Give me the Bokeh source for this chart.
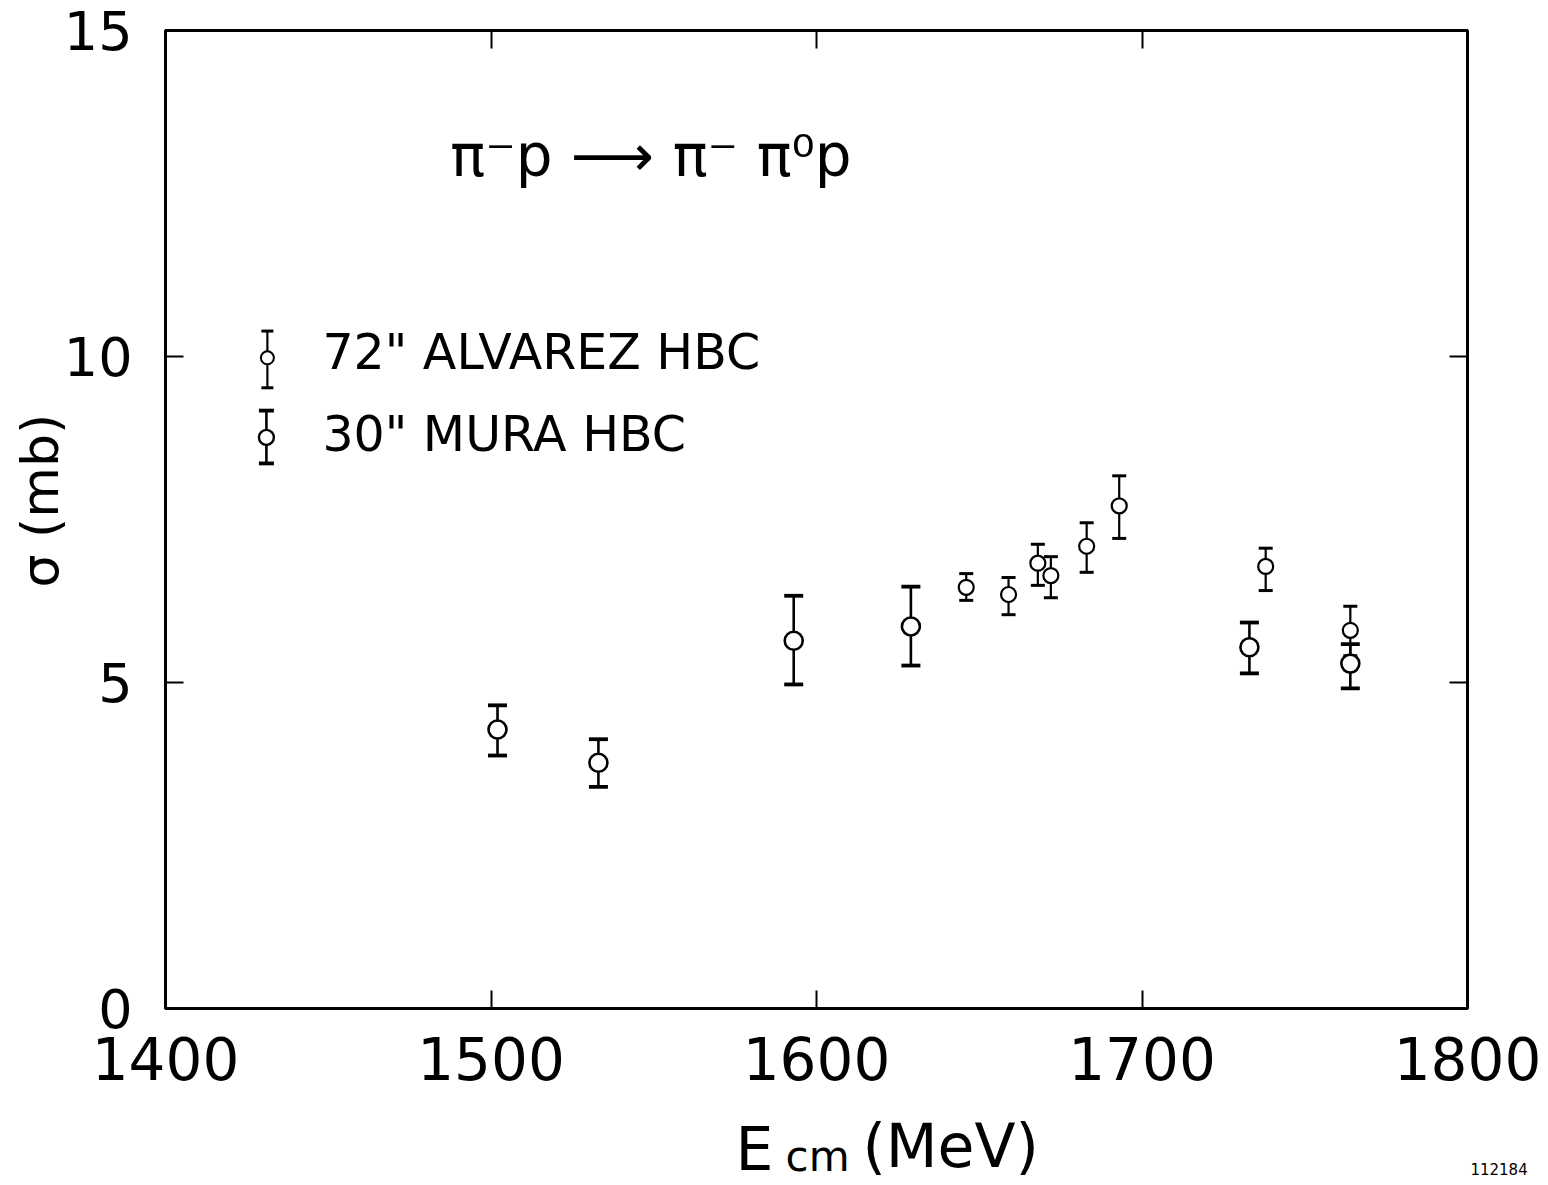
from bokeh.plotting import figure
from bokeh.models import (ColumnDataSource, Whisker, TeeHead, LinearAxis, FixedTicker, Label, Range1d)
from bokeh.layouts import column
from bokeh.embed import file_html
from bokeh.resources import INLINE

# ---- data ----
alv_E = [1646, 1659, 1668, 1672, 1683, 1693, 1738, 1764]
alv_sigma = [6.46, 6.35, 6.83, 6.64, 7.09, 7.71, 6.78, 5.80]
alv_err_up = [0.21, 0.26, 0.29, 0.29, 0.36, 0.46, 0.28, 0.37]
alv_err_dn = [0.20, 0.31, 0.34, 0.34, 0.40, 0.50, 0.37, 0.39]

mura_E = [1502, 1533, 1593, 1629, 1733, 1764]
mura_sigma = [4.28, 3.77, 5.64, 5.86, 5.54, 5.29]
mura_err_up = [0.37, 0.36, 0.69, 0.61, 0.38, 0.30]
mura_err_dn = [0.40, 0.37, 0.67, 0.60, 0.40, 0.38]

x_ticks = [1400, 1500, 1600, 1700, 1800]
y_ticks = [0, 5, 10, 15]

legend_labels = ['72" ALVAREZ HBC', '30" MURA HBC']

FONT = "DejaVu Sans"

xr = Range1d(1400, 1800)
p = figure(width=1548, height=1110, x_range=xr, y_range=Range1d(0, 15),
           output_backend="svg", toolbar_location=None,
           min_border_left=165, min_border_right=81, min_border_top=30, min_border_bottom=102,
           x_axis_location=None, y_axis_location=None)
p.xgrid.visible = False
p.ygrid.visible = False
p.outline_line_color = "black"
p.outline_line_width = 3
p.background_fill_color = "white"
p.border_fill_color = "white"

def style_axis(ax, show_labels, fs):
    ax.axis_line_width = 3
    ax.axis_line_color = "black"
    ax.major_tick_in = 18
    ax.major_tick_out = 0
    ax.major_tick_line_width = 2
    ax.minor_tick_line_color = None
    ax.major_label_text_font = FONT
    ax.major_label_text_font_size = fs
    ax.major_label_text_color = "black" if show_labels else None

bx = LinearAxis(ticker=FixedTicker(ticks=x_ticks), major_label_standoff=28)
style_axis(bx, True, "58px")
p.add_layout(bx, "below")
tx = LinearAxis(ticker=FixedTicker(ticks=x_ticks))
style_axis(tx, False, "1px")
p.add_layout(tx, "above")
ly = LinearAxis(ticker=FixedTicker(ticks=y_ticks), major_label_standoff=33)
style_axis(ly, True, "54px")
p.add_layout(ly, "left")
ry = LinearAxis(ticker=FixedTicker(ticks=y_ticks))
style_axis(ry, False, "1px")
p.add_layout(ry, "right")

# ---- data sources ----
alv = ColumnDataSource(dict(x=alv_E, y=alv_sigma,
                            upper=[s + u for s, u in zip(alv_sigma, alv_err_up)],
                            lower=[s - d for s, d in zip(alv_sigma, alv_err_dn)]))
mura = ColumnDataSource(dict(x=mura_E, y=mura_sigma,
                             upper=[s + u for s, u in zip(mura_sigma, mura_err_up)],
                             lower=[s - d for s, d in zip(mura_sigma, mura_err_dn)]))

# legend samples
leg_alv = ColumnDataSource(dict(x=[1431.3], y=[9.98], upper=[10.39], lower=[9.52]))
leg_mura = ColumnDataSource(dict(x=[1431.0], y=[8.76], upper=[9.17], lower=[8.36]))

for src, cap, lw in [(alv, 14, 2.2), (leg_alv, 12, 2.2)]:
    p.add_layout(Whisker(base="x", upper="upper", lower="lower", source=src, line_width=lw,
                         upper_head=TeeHead(size=cap, line_width=lw + 0.8),
                         lower_head=TeeHead(size=cap, line_width=lw + 0.8)))
for src, cap, lw in [(mura, 19, 2.6), (leg_mura, 15, 2.6)]:
    p.add_layout(Whisker(base="x", upper="upper", lower="lower", source=src, line_width=lw,
                         upper_head=TeeHead(size=cap, line_width=lw + 1.2),
                         lower_head=TeeHead(size=cap, line_width=lw + 1.2)))

p.scatter("x", "y", source=alv, marker="circle", size=15, fill_color="white", line_color="black", line_width=2.2)
p.scatter("x", "y", source=leg_alv, marker="circle", size=13, fill_color="white", line_color="black", line_width=2.0)
p.scatter("x", "y", source=mura, marker="circle", size=18, fill_color="white", line_color="black", line_width=2.6)
p.scatter("x", "y", source=leg_mura, marker="circle", size=15, fill_color="white", line_color="black", line_width=2.4)

# legend text
p.add_layout(Label(x=1448.2, y=10.06, text=legend_labels[0], text_font=FONT, text_font_size="49px",
                   text_color="black", text_baseline="middle", text_align="left"))
p.add_layout(Label(x=1448.2, y=8.80, text=legend_labels[1], text_font=FONT, text_font_size="49px",
                   text_color="black", text_baseline="middle", text_align="left"))

# reaction title
p.add_layout(Label(x=1487.5, y=13.08, text="π⁻p ⟶ π⁻ π⁰p", text_font=FONT, text_font_size="58px",
                   text_color="black", text_baseline="middle", text_align="left"))

# y-axis title, in the left side panel so it is not clipped to the frame
p.add_layout(Label(x=1361.5, y=7.79, text="σ (mb)", text_font=FONT, text_font_size="52px",
                   text_color="black", angle=1.5707963, text_baseline="middle", text_align="center"), "left")

# strip below the plot for the x-axis title (same x scale; y in page pixels)
q = figure(width=1548, height=75, x_range=xr, y_range=Range1d(1185, 1110),
           output_backend="svg", toolbar_location=None,
           min_border_left=165, min_border_right=81, min_border_top=0, min_border_bottom=0,
           x_axis_location=None, y_axis_location=None)
q.xgrid.visible = False
q.ygrid.visible = False
q.outline_line_color = None
q.background_fill_color = "white"
q.border_fill_color = "white"
q.add_layout(Label(x=1575.1, y=1148, text="E", text_font=FONT, text_font_size="60px",
                   text_color="black", text_baseline="middle", text_align="left"))
q.add_layout(Label(x=1590.5, y=1156, text="cm", text_font=FONT, text_font_size="42px",
                   text_color="black", text_baseline="middle", text_align="left"))
q.add_layout(Label(x=1614.1, y=1145, text="(MeV)", text_font=FONT, text_font_size="60px",
                   text_color="black", text_baseline="middle", text_align="left"))
q.add_layout(Label(x=1800.9, y=1168, text="112184", text_font=FONT, text_font_size="15px",
                   text_color="black", text_baseline="middle", text_align="left"), "right")

layout = column(p, q, spacing=0)
open("out.html", "w").write(file_html(layout, INLINE))
